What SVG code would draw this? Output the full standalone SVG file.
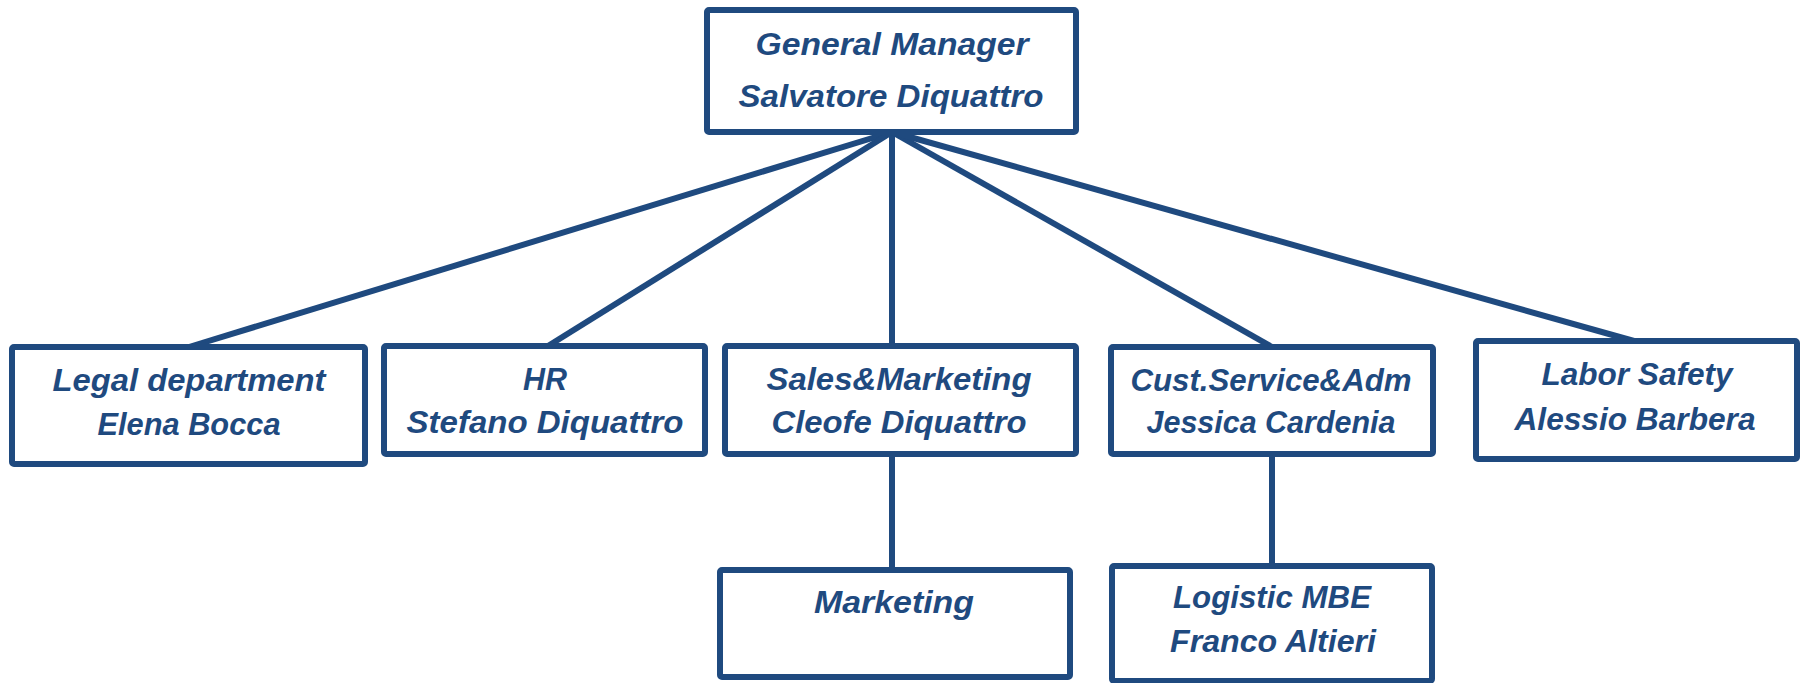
<svg xmlns="http://www.w3.org/2000/svg" width="1804" height="683" viewBox="0 0 1804 683">
  <style>
    .box { fill: #ffffff; stroke: #1f4a7f; stroke-width: 6; stroke-linejoin: round; }
    .link { stroke: #1f4a7f; stroke-width: 6; fill: none; stroke-linecap: butt; }
    .lbl { font-family: "Liberation Sans", Arial, sans-serif; font-size: 32px; font-weight: bold; font-style: italic; fill: #1f4a7f; text-anchor: middle; }
  </style>
  <rect width="1804" height="683" fill="#ffffff"/>

  <!-- reporting lines -->
  <g id="connectors">
    <line class="link" x1="892" y1="132" x2="189" y2="347"/>
    <line class="link" x1="892" y1="132" x2="548" y2="346"/>
    <line class="link" x1="892" y1="132" x2="892" y2="346"/>
    <line class="link" x1="892" y1="132" x2="1272" y2="347"/>
    <line class="link" x1="892" y1="132" x2="1634" y2="341"/>
    <line class="link" x1="892" y1="454" x2="892" y2="570"/>
    <line class="link" x1="1272" y1="454" x2="1272" y2="566"/>
  </g>

  <g id="general-manager">
    <rect class="box" x="707" y="10" width="369" height="122" rx="2"/>
    <text class="lbl" x="892" y="55" textLength="273" lengthAdjust="spacingAndGlyphs">General Manager</text>
    <text class="lbl" x="891" y="107" textLength="305" lengthAdjust="spacingAndGlyphs">Salvatore Diquattro</text>
  </g>

  <g id="legal">
    <rect class="box" x="12" y="347" width="353" height="117" rx="2"/>
    <text class="lbl" x="189" y="391" textLength="273" lengthAdjust="spacingAndGlyphs">Legal department</text>
    <text class="lbl" x="189" y="435" textLength="183" lengthAdjust="spacingAndGlyphs">Elena Bocca</text>
  </g>

  <g id="hr">
    <rect class="box" x="384" y="346" width="321" height="108" rx="2"/>
    <text class="lbl" x="545" y="390" textLength="44" lengthAdjust="spacingAndGlyphs">HR</text>
    <text class="lbl" x="545" y="433" textLength="277" lengthAdjust="spacingAndGlyphs">Stefano Diquattro</text>
  </g>

  <g id="sales-marketing">
    <rect class="box" x="725" y="346" width="351" height="108" rx="2"/>
    <text class="lbl" x="899" y="390" textLength="265" lengthAdjust="spacingAndGlyphs">Sales&amp;Marketing</text>
    <text class="lbl" x="899" y="433" textLength="255" lengthAdjust="spacingAndGlyphs">Cleofe Diquattro</text>
  </g>

  <g id="cust-service">
    <rect class="box" x="1111" y="347" width="322" height="107" rx="2"/>
    <text class="lbl" x="1271" y="391" textLength="281" lengthAdjust="spacingAndGlyphs">Cust.Service&amp;Adm</text>
    <text class="lbl" x="1271" y="433" textLength="249" lengthAdjust="spacingAndGlyphs">Jessica Cardenia</text>
  </g>

  <g id="labor-safety">
    <rect class="box" x="1476" y="341" width="321" height="118" rx="2"/>
    <text class="lbl" x="1637" y="385" textLength="191" lengthAdjust="spacingAndGlyphs">Labor Safety</text>
    <text class="lbl" x="1635" y="430" textLength="241" lengthAdjust="spacingAndGlyphs">Alessio Barbera</text>
  </g>

  <g id="marketing">
    <rect class="box" x="720" y="570" width="350" height="107" rx="2"/>
    <text class="lbl" x="894" y="613" textLength="160" lengthAdjust="spacingAndGlyphs">Marketing</text>
  </g>

  <g id="logistic">
    <rect class="box" x="1112" y="566" width="320" height="115" rx="2"/>
    <text class="lbl" x="1272" y="608" textLength="198" lengthAdjust="spacingAndGlyphs">Logistic MBE</text>
    <text class="lbl" x="1273" y="652" textLength="206" lengthAdjust="spacingAndGlyphs">Franco Altieri</text>
  </g>
</svg>
